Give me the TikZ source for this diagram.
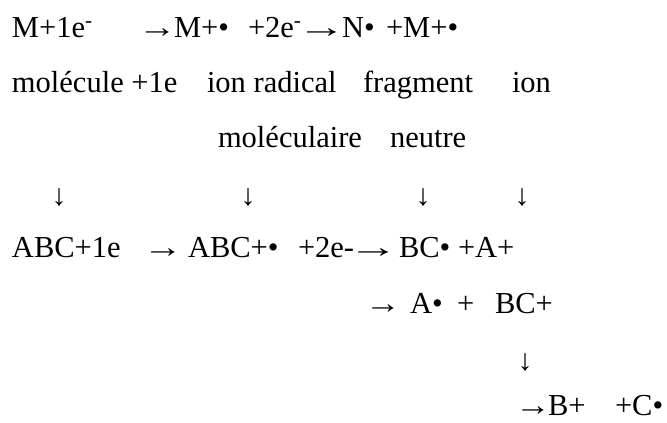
\documentclass[tikz,border=0pt]{standalone}
\usepackage{fontspec}
\setmainfont{Liberation Serif}
\begin{document}
\begin{tikzpicture}[x=1pt,y=-1pt,
  txt/.style={anchor=base west,inner sep=0pt,outer sep=0pt,font=\fontsize{30.5}{36}\selectfont},
  darr/.style={anchor=base,inner sep=0pt,outer sep=0pt,font=\fontsize{30}{36}\selectfont}]
\useasboundingbox[fill=white] (0,0) rectangle (667,423);
% line 1
\node[txt] (l1a) at (12,37) {M+1e\textsuperscript{-}};
\node[txt] (a1) at (138,37) {\scalebox{1.26}[1]{→}};
\node[txt] (l1b) at (174,37) {M+•};
\node[txt] (l1c) at (248,37) {+2e\textsuperscript{-}};
\node[txt] (a2) at (297,37) {\scalebox{1.6}[1]{→}};
\node[txt] (l1e) at (342,37) {N•};
\node[txt] (l1f) at (386,37) {+M+•};
% line 2
\node[txt] (l2a) at (12,92) {molécule +1e};
\node[txt] (l2b) at (207,92) {ion radical};
\node[txt] (l2c) at (363,92) {fragment};
\node[txt] (l2d) at (512,92) {ion};
% line 3
\node[txt] (l3a) at (218,147) {moléculaire};
\node[txt] (l3b) at (390,147) {neutre};
% arrow row
\node[darr] (d1) at (59,205) {↓};
\node[darr] (d2) at (248,205) {↓};
\node[darr] (d3) at (423,205) {↓};
\node[darr] (d4) at (522,205) {↓};
% line 4
\node[txt] (l4a) at (12,257) {ABC+1e};
\node[txt] (a3) at (143,257) {\scalebox{1.3}[1]{→}};
\node[txt] (l4c) at (188,257) {ABC+•};
\node[txt] (l4d) at (298,257) {+2e-};
\node[txt] (a4) at (348,257) {\scalebox{1.65}[1]{→}};
\node[txt] (l4f) at (399,257) {BC•};
\node[txt] (l4g) at (458,257) {+A+};
% line 5
\node[txt] (a5) at (365,313) {\scalebox{1.17}[1]{→}};
\node[txt] (l5b) at (410,313) {A•};
\node[txt] (l5c) at (457,313) {+};
\node[txt] (l5d) at (495,313) {BC+};
% arrow
\node[darr] (d5) at (525,370) {↓};
% line 6
\node[txt] (a6) at (515,415) {\scalebox{1.17}[1]{→}};
\node[txt] (l6b) at (548,415) {B+};
\node[txt] (l6c) at (615,415) {+C•};
\end{tikzpicture}
\end{document}
